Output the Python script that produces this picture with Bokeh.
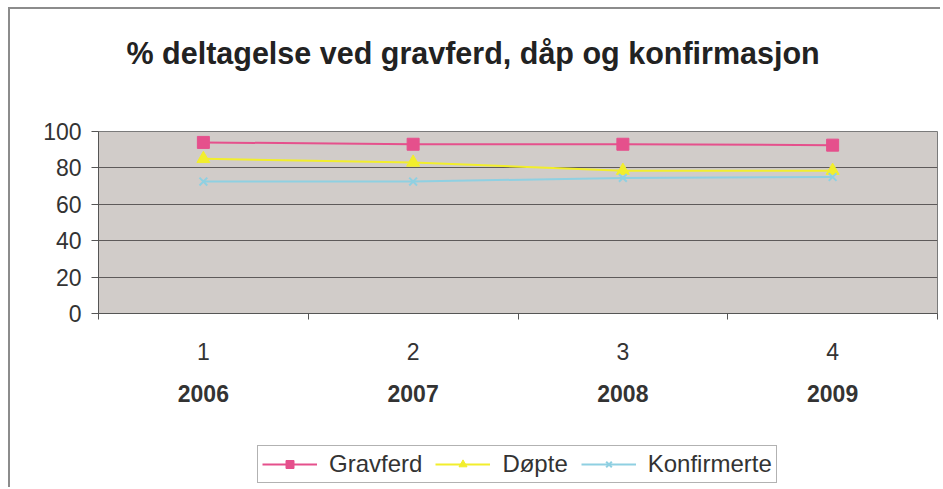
from bokeh.plotting import figure
from bokeh.layouts import column
from bokeh.models import FixedTicker, LinearAxis, Range1d, Legend, LegendItem
from bokeh.embed import file_html
from bokeh.resources import INLINE

# ---- data ----
cat_pos = [1, 2, 3, 4]
cat_labels = ["1", "2", "3", "4"]
year_labels = ["2006", "2007", "2008", "2009"]
gravferd = [94, 93, 93, 92.5]
dopte = [85, 83, 78.5, 78.5]
konfirmerte = [72.5, 72.5, 74.5, 75]
y_ticks = [0, 20, 40, 60, 80, 100]
series_names = ["Gravferd", "Døpte", "Konfirmerte"]

FONT = "Liberation Sans"
TXT = "#333333"
PINK = "#e5508c"
YEL = "#f2ee2c"
BLUE = "#8fd0e2"

p = figure(output_backend="svg", toolbar_location=None,
           x_range=Range1d(0.5, 4.5), y_range=Range1d(0, 100),
           x_axis_location=None, y_axis_location=None,
           min_border_left=88, min_border_right=3, min_border_top=119,
           min_border_bottom=100)
p.frame_width = 839
p.frame_height = 182

p.title.text = "% deltagelse ved gravferd, dåp og konfirmasjon"
p.title.align = "left"
p.title.offset = 28
p.title.text_font = FONT
p.title.text_font_size = "30.5px"
p.title.text_font_style = "bold"
p.title.text_color = "#222222"
p.title.standoff = 48

# invisible spacer between title and plot area
spacer = LinearAxis(ticker=FixedTicker(ticks=[]), axis_label="spacer")
spacer.axis_line_color = None
spacer.major_tick_line_color = None
spacer.minor_tick_line_color = None
spacer.major_tick_out = 0
spacer.axis_label_text_font_size = "20px"
spacer.axis_label_text_alpha = 0
spacer.axis_label_standoff = 13
p.add_layout(spacer, "above")

p.background_fill_color = "#d1ccc9"
p.border_fill_color = "white"
p.outline_line_color = "#7a7a7a"
p.outline_line_width = 1

# y axis
yax = LinearAxis(ticker=FixedTicker(ticks=y_ticks))
yax.axis_line_color = "#555555"
yax.major_tick_line_color = "#555555"
yax.major_tick_out = 7
yax.major_tick_in = 0
yax.minor_tick_line_color = None
yax.major_label_text_font = FONT
yax.major_label_text_font_size = "23px"
yax.major_label_text_color = TXT
yax.major_label_standoff = 10
p.add_layout(yax, "left")

# x axis with ticks at category boundaries
xax = LinearAxis(ticker=FixedTicker(ticks=[0.5, 1.5, 2.5, 3.5, 4.5]))
xax.axis_line_color = "#555555"
xax.major_tick_line_color = "#555555"
xax.major_tick_out = 6
xax.major_tick_in = 0
xax.minor_tick_line_color = None
xax.major_label_overrides = {0.5: "", 1.5: "", 2.5: "", 3.5: "", 4.5: ""}
xax.major_label_text_font_size = "1px"
xax.major_label_standoff = 0
p.add_layout(xax, "below")

# category labels
xax2 = LinearAxis(ticker=FixedTicker(ticks=cat_pos))
xax2.axis_line_color = None
xax2.major_tick_line_color = None
xax2.minor_tick_line_color = None
xax2.major_label_overrides = {k: v for k, v in zip(cat_pos, cat_labels)}
xax2.major_label_text_font = FONT
xax2.major_label_text_font_size = "23px"
xax2.major_label_text_color = TXT
xax2.major_label_standoff = 17
p.add_layout(xax2, "below")

xax3 = LinearAxis(ticker=FixedTicker(ticks=cat_pos))
xax3.axis_line_color = None
xax3.major_tick_line_color = None
xax3.minor_tick_line_color = None
xax3.major_label_overrides = {k: v for k, v in zip(cat_pos, year_labels)}
xax3.major_label_text_font = FONT
xax3.major_label_text_font_size = "23px"
xax3.major_label_text_font_style = "bold"
xax3.major_label_text_color = TXT
xax3.major_label_standoff = 16
p.add_layout(xax3, "below")

# grid
p.ygrid.ticker = FixedTicker(ticks=y_ticks)
p.ygrid.grid_line_color = "#5e5a5a"
p.ygrid.grid_line_width = 1
p.xgrid.grid_line_color = None

styles = [
    (gravferd, PINK, dict(marker="square", size=12, fill_color=PINK, line_color=PINK)),
    (dopte, YEL, dict(marker="triangle", size=13, fill_color=YEL, line_color=YEL)),
    (konfirmerte, BLUE, dict(marker="x", size=11, line_color=BLUE, line_width=2)),
]
for vals, col, mk in styles:
    p.line(cat_pos, vals, line_color=col, line_width=2)
    p.scatter(cat_pos, vals, **mk)

# legend strip (separate canvas below the chart, same series styles)
p2 = figure(width=930, height=74, output_backend="svg", toolbar_location=None,
            x_range=Range1d(10, 11), y_range=Range1d(0, 100),
            x_axis_location=None, y_axis_location=None,
            min_border_left=0, min_border_right=0, min_border_top=0,
            min_border_bottom=0)
p2.outline_line_color = None
p2.background_fill_color = "white"
p2.border_fill_color = "white"
p2.xgrid.grid_line_color = None
p2.ygrid.grid_line_color = None

items = []
for name, (vals, col, mk) in zip(series_names, styles):
    lr = p2.line(cat_pos, vals, line_color=col, line_width=2)
    sr = p2.scatter(cat_pos, vals, **mk)
    items.append(LegendItem(label=name, renderers=[lr, sr]))

legend = Legend(items=items, orientation="horizontal", location=(159, 4))
legend.label_text_font = FONT
legend.label_text_font_size = "24px"
legend.label_text_color = TXT
legend.glyph_width = 55
legend.label_standoff = 12
legend.spacing = 13
legend.padding = 4
legend.margin = 0
legend.border_line_color = "#666666"
legend.border_line_width = 1
legend.background_fill_color = "white"
p2.add_layout(legend, "center")

lay = column(p, p2, spacing=0)
lay.styles = {"border-left": "2px solid #8c8c8c", "border-top": "2px solid #8c8c8c",
              "margin-left": "8px", "margin-top": "7px"}

open("out.html", "w").write(file_html(lay, INLINE))
